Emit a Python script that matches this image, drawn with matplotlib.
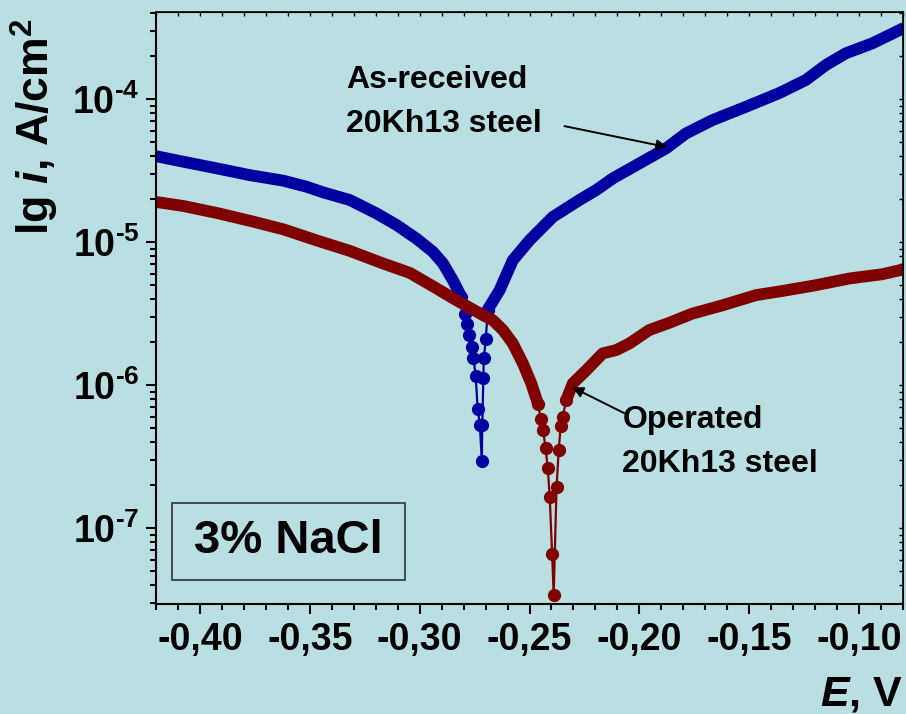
"""Поляризационные кривые стали 20Х13 в 3% NaCl"""
import math
import matplotlib
matplotlib.use('Agg')
import matplotlib.pyplot as plt
from matplotlib.patches import Rectangle
from matplotlib.ticker import FixedLocator, FuncFormatter, MultipleLocator, LogLocator, NullFormatter

plt.rcParams['font.family'] = ['Liberation Sans', 'DejaVu Sans']
plt.rcParams['font.weight'] = 'bold'
plt.rcParams['mathtext.fontset'] = 'custom'
plt.rcParams['mathtext.rm'] = 'Liberation Sans:bold'
plt.rcParams['mathtext.it'] = 'Liberation Sans:italic:bold'
plt.rcParams['mathtext.bf'] = 'Liberation Sans:bold'

BG = '#b9dfe2'
BLUE = '#0000a0'
RED = '#800000'

# As-received 20Kh13 steel: катодная ветвь, область минимума, анодная ветвь
E_recv_cat = [-0.420, -0.4076, -0.3924, -0.3773, -0.3621, -0.3515, -0.3440, -0.3318,
              -0.3197, -0.3106, -0.3015, -0.2940, -0.2894, -0.2849, -0.2810]
i_recv_cat = [3.99e-5, 3.65e-5, 3.28e-5, 2.94e-5, 2.69e-5, 2.44e-5, 2.23e-5, 1.97e-5,
              1.59e-5, 1.32e-5, 1.06e-5, 8.57e-6, 7.11e-6, 5.42e-6, 4.14e-6]
E_recv_dip = [-0.2795, -0.2783, -0.2774, -0.2764, -0.2755, -0.2745, -0.2736, -0.2726,
              -0.2717, -0.2715, -0.2710, -0.2708, -0.2699]
i_recv_dip = [3.17e-6, 2.67e-6, 2.24e-6, 1.84e-6, 1.56e-6, 1.16e-6, 6.8e-7, 5.3e-7,
              2.96e-7, 5.3e-7, 1.13e-6, 1.56e-6, 2.09e-6]
E_recv_an = [-0.2690, -0.2636, -0.2576, -0.2500, -0.2394, -0.2273, -0.2197, -0.2121,
             -0.2000, -0.1879, -0.1788, -0.1667, -0.1515, -0.1364, -0.1242, -0.1151,
             -0.1060, -0.0940, -0.0800]
i_recv_an = [3.38e-6, 4.62e-6, 7.48e-6, 1.03e-5, 1.50e-5, 1.97e-5, 2.31e-5, 2.79e-5,
             3.55e-5, 4.52e-5, 5.75e-5, 7.13e-5, 8.83e-5, 1.10e-4, 1.36e-4, 1.73e-4,
             2.09e-4, 2.45e-4, 3.12e-4]

# Operated 20Kh13 steel
E_oper_cat = [-0.420, -0.4076, -0.3924, -0.3773, -0.3621, -0.3470, -0.3318, -0.3167,
              -0.3045, -0.2940, -0.2833, -0.2712, -0.2667, -0.2621, -0.2576, -0.2530,
              -0.2492, -0.2462]
i_oper_cat = [1.91e-5, 1.79e-5, 1.60e-5, 1.41e-5, 1.23e-5, 1.03e-5, 8.69e-6, 7.10e-6,
              6.10e-6, 4.92e-6, 3.93e-6, 3.09e-6, 2.85e-6, 2.43e-6, 1.96e-6, 1.42e-6,
              1.03e-6, 7.45e-7]
E_oper_dip = [-0.2449, -0.2438, -0.2427, -0.2417, -0.2408, -0.2397, -0.2390, -0.2377,
              -0.2367, -0.2358, -0.2349]
i_oper_dip = [5.85e-7, 4.84e-7, 3.65e-7, 2.64e-7, 1.66e-7, 6.58e-8, 3.4e-8, 1.94e-7,
              3.53e-7, 5.16e-7, 6.0e-7]
E_oper_an = [-0.2333, -0.2303, -0.2242, -0.2167, -0.2106, -0.2045, -0.1955, -0.1864,
             -0.1758, -0.1621, -0.1470, -0.1349, -0.1197, -0.1045, -0.0894, -0.0800]
i_oper_an = [7.85e-7, 1.03e-6, 1.27e-6, 1.67e-6, 1.76e-6, 1.96e-6, 2.43e-6, 2.73e-6,
             3.17e-6, 3.62e-6, 4.26e-6, 4.56e-6, 5.00e-6, 5.57e-6, 5.97e-6, 6.44e-6]

x_ticks = [-0.40, -0.35, -0.30, -0.25, -0.20, -0.15, -0.10]
y_ticks = [1e-7, 1e-6, 1e-5, 1e-4]


def draw_curve(ax, E_cat, i_cat, E_dip, i_dip, E_an, i_an, color):
    # плотные участки - толстая линия, точки у минимума - маркеры
    ax.plot(E_cat, i_cat, color=color, lw=8.5, solid_capstyle='round', solid_joinstyle='round')
    ax.plot(E_an, i_an, color=color, lw=8.5, solid_capstyle='round', solid_joinstyle='round')
    E_all = E_cat[-1:] + E_dip + E_an[:1]
    i_all = i_cat[-1:] + i_dip + i_an[:1]
    ax.plot(E_all, i_all, color=color, lw=1.6, marker='o', ms=8.5, mec=color)


def y_label(v, pos):
    p = round(math.log10(v))
    return r'$10^{%s}$' % str(p).replace('-', '\u2010')


fig = plt.figure(figsize=(9.06, 7.14), dpi=100)
fig.patch.set_facecolor(BG)
ax = fig.add_axes([0.1722, 0.1541, 0.8245, 0.8291])
ax.set_facecolor(BG)

draw_curve(ax, E_recv_cat, i_recv_cat, E_recv_dip, i_recv_dip, E_recv_an, i_recv_an, BLUE)
draw_curve(ax, E_oper_cat, i_oper_cat, E_oper_dip, i_oper_dip, E_oper_an, i_oper_an, RED)

ax.set_yscale('log')
ax.set_xlim(-0.42, -0.08)
ax.set_ylim(2.96e-8, 4.06e-4)

ax.xaxis.set_major_locator(FixedLocator(x_ticks))
ax.xaxis.set_minor_locator(MultipleLocator(0.01))
ax.xaxis.set_major_formatter(FuncFormatter(lambda v, p: ('%.2f' % v).replace('.', ',')))
ax.yaxis.set_major_locator(FixedLocator(y_ticks))
ax.yaxis.set_minor_locator(LogLocator(base=10, subs=range(2, 10)))
ax.yaxis.set_minor_formatter(NullFormatter())
ax.yaxis.set_major_formatter(FuncFormatter(y_label))

ax.tick_params(which='major', direction='out', length=7, width=1.5, labelsize=27, pad=6)
ax.tick_params(which='minor', direction='out', length=4, width=1.5)
ax.tick_params(axis='y', which='major', pad=5)

for s in ['left', 'bottom']:
    ax.spines[s].set_linewidth(1.5)
for s in ['top', 'right']:
    ax.spines[s].set_linewidth(1.2)

# засечки внутрь на верхней и правой осях
top = ax.secondary_xaxis('top')
top.xaxis.set_major_locator(FixedLocator(x_ticks))
top.xaxis.set_minor_locator(MultipleLocator(0.01))
top.tick_params(which='both', direction='in', length=3, width=1, labeltop=False)
right = ax.secondary_yaxis('right')
right.yaxis.set_major_locator(FixedLocator(y_ticks))
right.yaxis.set_minor_locator(LogLocator(base=10, subs=range(2, 10)))
right.yaxis.set_minor_formatter(NullFormatter())
right.tick_params(which='both', direction='in', length=3, width=1, labelright=False)

fig.text(0.0552, 0.822, r'lg $i$, A/cm$^2$', fontsize=32, rotation=90,
         rotation_mode='anchor', ha='center', va='baseline')
fig.text(0.997, 0.012, r'$E$, V', fontsize=31, ha='right', va='baseline')

# подписи кривых
ax.text(-0.3336, 1.19e-4, 'As-received', fontsize=23, ha='left', va='baseline')
ax.text(-0.3336, 5.88e-5, '20Kh13 steel', fontsize=23, ha='left', va='baseline')
ax.annotate('', xy=(-0.1873, 4.61e-5), xytext=(-0.2341, 6.47e-5),
            arrowprops=dict(arrowstyle='-|>', color='black', lw=1.4, mutation_scale=16,
                            shrinkA=0, shrinkB=0))
ax.text(-0.2077, 5.0e-7, 'Operated', fontsize=23, ha='left', va='baseline')
ax.text(-0.2077, 2.47e-7, '20Kh13 steel', fontsize=23, ha='left', va='baseline')
ax.annotate('', xy=(-0.2305, 9.68e-7), xytext=(-0.2068, 6.37e-7),
            arrowprops=dict(arrowstyle='-|>', color='black', lw=1.4, mutation_scale=16,
                            shrinkA=0, shrinkB=0))

ax.add_patch(Rectangle((0.0214, 0.0405), 0.3119, 0.130, transform=ax.transAxes,
                       fill=False, edgecolor='#333333', lw=1.2))
ax.text(0.1774, 0.1056, '3% NaCl', fontsize=34, ha='center', va='center', transform=ax.transAxes)

fig.savefig('out.png', dpi=100, facecolor=BG)
